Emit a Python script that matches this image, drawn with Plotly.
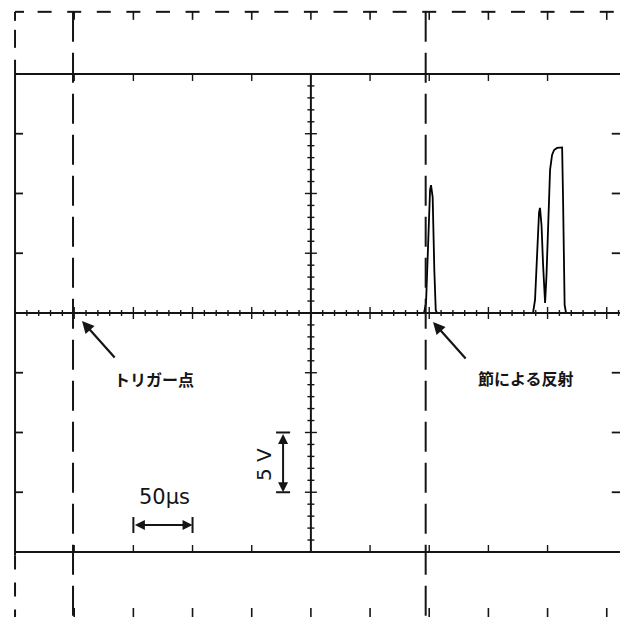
import plotly.graph_objects as go

# ---------------- data ----------------
T_PER_DIV = 50          # µs per division
V_PER_DIV = 5           # V per division
T_GRID_LEFT = -49       # left graticule edge (µs, trigger = 0)
trigger_t = 0
reflection_t = 298

time_us = [-49, 296.6, 298.3, 300.0, 301.7, 302.5, 303.9, 305.3, 306.5, 307.6,
           388.7, 390.4, 392.1, 393.8, 394.6, 395.9, 397.2, 398.9, 400.1, 401.4,
           403.1, 404.8, 406.5, 409.0, 413.3, 414.1, 414.8, 415.4, 416.6, 462.2]
volts = [0, 0, 0.84, 6.11, 10.3, 10.7, 9.7, 3.6, 0.25, 0,
         0, 1.09, 5.31, 8.45, 8.79, 7.32, 4.02, 0.84, 3.18, 7.78,
         11.97, 13.22, 13.64, 13.81, 13.85, 9.46, 4.44, 0.67, 0, 0]

label_trigger = "トリガー点"
label_reflect = "節による反射"
label_time = "50µs"
label_volt = "5 V"

# ---------------- layout geometry ----------------
W, H = 620, 617
X_RANGE = [-61.7, 462.2]
Y_RANGE = [-25.44, 26.19]
PX_T = (X_RANGE[1] - X_RANGE[0]) / W   # µs per pixel
PX_V = (Y_RANGE[1] - Y_RANGE[0]) / H   # V per pixel
INK = "#151515"

grid_t = [T_GRID_LEFT + T_PER_DIV * k for k in range(11)]
TOP_V = 25.2
BOT_V = Y_RANGE[0]
XMAX = X_RANGE[1]

shapes = []


def seg(x0, y0, x1, y1, w=2.0, dash=None):
    line = dict(color=INK, width=w)
    if dash:
        line["dash"] = dash
    shapes.append(dict(type="line", xref="x", yref="y", x0=x0, y0=y0, x1=x1, y1=y1,
                       line=line, layer="above"))


# solid horizontal graticule lines
for v in (4 * V_PER_DIV, 0, -4 * V_PER_DIV):
    seg(T_GRID_LEFT, v, XMAX, v, 2.0)

# left edge: solid in the middle, dashed outside
seg(T_GRID_LEFT, -4 * V_PER_DIV - 0.3, T_GRID_LEFT, 4 * V_PER_DIV + 1.2, 2.0)
seg(T_GRID_LEFT, TOP_V, T_GRID_LEFT, TOP_V - 9 * PX_V, 2.0)
seg(T_GRID_LEFT, TOP_V - 18 * PX_V, T_GRID_LEFT, TOP_V - 36 * PX_V, 2.0)
seg(T_GRID_LEFT, -4 * V_PER_DIV - 0.3, T_GRID_LEFT, BOT_V, 2.0, dash="14px,13px")

# top dashed border with "T" ticks
seg(T_GRID_LEFT, TOP_V, T_GRID_LEFT + 9 * PX_T, TOP_V, 2.0)
for k, t in enumerate(grid_t):
    if k > 0:
        seg(t - 7 * PX_T, TOP_V, t + 7 * PX_T, TOP_V, 2.0)
        seg(t, TOP_V, t, TOP_V - 8 * PX_V, 1.6)
    if k < 10:
        th = t + T_PER_DIV / 2
        seg(th - 7 * PX_T, TOP_V, th + 7 * PX_T, TOP_V, 2.0)

# bottom ticks
for k, t in enumerate(grid_t):
    if k > 0:
        seg(t, BOT_V + 9 * PX_V, t, BOT_V, 1.6)

# ticks on upper / lower solid lines
for k, t in enumerate(grid_t):
    if 0 < k < 10 and k != 5:
        seg(t, 4 * V_PER_DIV, t, 4 * V_PER_DIV - 7 * PX_V, 1.4)
        seg(t, -4 * V_PER_DIV, t, -4 * V_PER_DIV + 7 * PX_V, 1.4)

# centre horizontal minor/major ticks
n_minor = int((XMAX - T_GRID_LEFT) / (T_PER_DIV / 5)) + 1
for i in range(n_minor):
    t = T_GRID_LEFT + i * T_PER_DIV / 5
    big = i % 5 == 0
    h = (6 if big else 3) * PX_V
    seg(t, -h, t, h, 1.4)

# centre vertical axis with ticks
tc = grid_t[5]
seg(tc, -4 * V_PER_DIV, tc, 4 * V_PER_DIV, 2.0)
for j in range(-20, 21):
    v = j * V_PER_DIV / 5
    big = j % 5 == 0
    w = (6 if big else 3.5) * PX_T
    seg(tc - w, v, tc + w, v, 1.4)

# edge ticks (left and right)
for j in (-3, -2, -1, 1, 2, 3):
    v = j * V_PER_DIV
    seg(T_GRID_LEFT, v, T_GRID_LEFT + 8 * PX_T, v, 1.8)
    seg(grid_t[10] + 5 * PX_T, v, XMAX, v, 1.8)

# trigger / reflection markers
for t in (trigger_t, reflection_t):
    seg(t, TOP_V, t, BOT_V, 2.0, dash="30px,11px")

# scale bars
bar_v = -17.74
seg(grid_t[2], bar_v - 8 * PX_V, grid_t[2], bar_v + 8 * PX_V, 2.0)
seg(grid_t[3], bar_v - 8 * PX_V, grid_t[3], bar_v + 8 * PX_V, 2.0)
bar_t = 177.5
seg(bar_t - 7 * PX_T, -2 * V_PER_DIV, bar_t + 7 * PX_T, -2 * V_PER_DIV, 2.0)
seg(bar_t - 7 * PX_T, -3 * V_PER_DIV, bar_t + 7 * PX_T, -3 * V_PER_DIV, 2.0)

fig = go.Figure()
fig.add_trace(go.Scatter(x=time_us, y=volts, mode="lines",
                         line=dict(color="#000000", width=1.8), hoverinfo="skip",
                         showlegend=False))

jp_font = dict(family="Noto Sans CJK JP", size=16, color=INK)
annotations = [
    dict(x=68.5, y=-5.52, text="<b>" + label_trigger + "</b>", showarrow=False, font=jp_font),
    dict(x=382.5, y=-5.44, text="<b>" + label_reflect + "</b>", showarrow=False, font=jp_font),
    dict(x=7.6, y=-0.67, ax=36.3, ay=-3.85, axref="x", ayref="y", text="",
         showarrow=True, arrowhead=2, arrowsize=1.1, arrowwidth=2.2, arrowcolor=INK, standoff=0),
    dict(x=304.2, y=-0.75, ax=332.9, ay=-3.93, axref="x", ayref="y", text="",
         showarrow=True, arrowhead=2, arrowsize=1.1, arrowwidth=2.2, arrowcolor=INK, standoff=0),
    dict(x=76.9, y=-15.4, text=label_time, showarrow=False,
         font=dict(family="DejaVu Sans", size=21, color=INK)),
    dict(x=161.4, y=-12.72, text=label_volt, showarrow=False, textangle=-90,
         font=dict(family="DejaVu Sans", size=20, color=INK)),
    dict(x=grid_t[3], y=bar_v, ax=grid_t[2], ay=bar_v, axref="x", ayref="y", text="",
         showarrow=True, arrowhead=2, arrowside="end+start", arrowsize=1, arrowwidth=2,
         arrowcolor=INK, standoff=0, startstandoff=0),
    dict(x=bar_t, y=-3 * V_PER_DIV, ax=bar_t, ay=-2 * V_PER_DIV, axref="x", ayref="y", text="",
         showarrow=True, arrowhead=2, arrowside="end+start", arrowsize=1, arrowwidth=2,
         arrowcolor=INK, standoff=0, startstandoff=0),
]

fig.update_layout(
    width=W, height=H,
    margin=dict(l=0, r=0, t=0, b=0),
    paper_bgcolor="white", plot_bgcolor="white",
    xaxis=dict(range=X_RANGE, visible=False, fixedrange=True),
    yaxis=dict(range=Y_RANGE, visible=False, fixedrange=True),
    shapes=shapes,
    annotations=annotations,
    showlegend=False,
)

fig.write_html("out.html", config={"displayModeBar": False},
               post_script="document.body.style.margin='0';document.body.style.overflow='hidden';")
